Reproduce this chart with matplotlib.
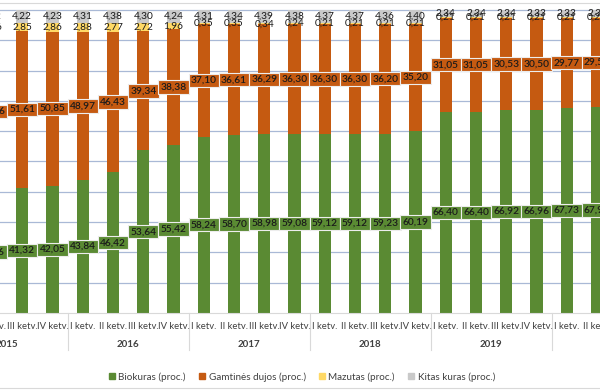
import numpy as np
import matplotlib.pyplot as plt
from matplotlib.lines import Line2D
from matplotlib.patches import Patch

plt.rcParams['font.family'] = ['Lato', 'DejaVu Sans']

# ketvirčiai (2015 II ketv. ... 2020 II ketv.)
ketv = ['II ketv.', 'III ketv.', 'IV ketv.',
        'I ketv.', 'II ketv.', 'III ketv.', 'IV ketv.',
        'I ketv.', 'II ketv.', 'III ketv.', 'IV ketv.',
        'I ketv.', 'II ketv.', 'III ketv.', 'IV ketv.',
        'I ketv.', 'II ketv.', 'III ketv.', 'IV ketv.',
        'I ketv.', 'II ketv.']
metai = ['2015', '2016', '2017', '2018', '2019', '2020']

biokuras = [40.26, 41.32, 42.05, 43.84, 46.42, 53.64, 55.42, 58.24, 58.70, 58.98, 59.08,
            59.12, 59.12, 59.23, 60.19, 66.40, 66.40, 66.92, 66.96, 67.73, 67.90]
dujos = [52.66, 51.61, 50.85, 48.97, 46.43, 39.34, 38.38, 37.10, 36.61, 36.29, 36.30,
         36.30, 36.30, 36.20, 35.20, 31.05, 31.05, 30.53, 30.50, 29.77, 29.56]
mazutas = [2.86, 2.85, 2.86, 2.88, 2.77, 2.72, 1.96, 0.35, 0.35, 0.34, 0.24,
           0.21, 0.21, 0.21, 0.21, 0.21, 0.21, 0.21, 0.21, 0.21, 0.21]
kitas = [4.22, 4.22, 4.23, 4.31, 4.38, 4.30, 4.24, 4.31, 4.34, 4.39, 4.38,
         4.37, 4.37, 4.36, 4.40, 2.34, 2.34, 2.34, 2.33, 2.33, 2.33]

serijos = [
    (biokuras, '#5A8A33', 'Biokuras (proc.)', True),
    (dujos, '#C55A11', 'Gamtinės dujos (proc.)', True),
    (mazutas, '#FFD966', 'Mazutas (proc.)', False),
    (kitas, '#C9C9C9', 'Kitas kuras (proc.)', False),
]

fig = plt.figure(figsize=(6, 3.9), dpi=100)
ax = fig.add_axes([0, 77 / 390, 1, 313 / 390])

x = np.arange(len(ketv))
bottom = np.zeros(len(x))
for vals, color, name, boxed in serijos:
    vals = np.array(vals)
    ax.bar(x, vals, 0.4, bottom=bottom, color=color, zorder=2)
    for xi, b, v in zip(x, bottom, vals):
        txt = f'{v:.2f}'.replace('.', ',')
        box = None
        if boxed:
            box = dict(boxstyle='square,pad=0.22', fc=color, ec='#EDEDED', lw=0.8)
        ax.text(xi, b + v / 2, txt, ha='center', va='center', fontsize=7.3,
                fontweight='semibold' if boxed else 'normal', color='#1A1A1A',
                bbox=box, zorder=3, clip_on=False)
    bottom += vals

ax.set_xlim(0.264, 20.1)
ax.set_ylim(0, 103.3)
ax.set_yticks(range(10, 101, 10))
ax.yaxis.grid(True, color='#A9B9D6', lw=0.9, zorder=0)
ax.set_axisbelow(True)
for s in ['top', 'left', 'right']:
    ax.spines[s].set_visible(False)
ax.spines['bottom'].set_color('#D9D9D9')
ax.tick_params(length=0, labelleft=False, labelbottom=False)

# kategorijų ašis
for xi, lab in zip(x, ketv):
    ax.annotate(lab, (xi, 0), xycoords=('data', 'axes fraction'), xytext=(0, -10),
                textcoords='offset points', ha='center', va='center',
                fontsize=6.8, color='#404040', annotation_clip=False)
for i, m in enumerate(metai):
    ax.annotate(m, (0.5 + 4 * i, 0), xycoords=('data', 'axes fraction'), xytext=(0, -22.5),
                textcoords='offset points', ha='center', va='center',
                fontsize=7, fontweight='bold', color='#404040', annotation_clip=False)
for i in range(len(metai)):
    sx = 2.5 + 4 * i
    ax.plot([sx, sx], [0, -0.118], transform=ax.get_xaxis_transform(),
            color='#D9D9D9', lw=0.8, clip_on=False)

# rėmelis
fig.add_artist(Line2D([0, 1], [387.5 / 390, 387.5 / 390], color='#D9D9D9', lw=0.8))
fig.add_artist(Line2D([0, 1], [2 / 390, 2 / 390], color='#D9D9D9', lw=0.8))

handles = [Patch(color=c, label=n) for _, c, n, _ in serijos]
fig.legend(handles=handles, loc='center', bbox_to_anchor=(0.503, 13 / 390), ncol=4,
           frameon=False, fontsize=7.1, handlelength=0.6, handleheight=0.6,
           handletextpad=0.4, columnspacing=1.3, labelcolor='#404040')

fig.savefig('out.png', dpi=100)
